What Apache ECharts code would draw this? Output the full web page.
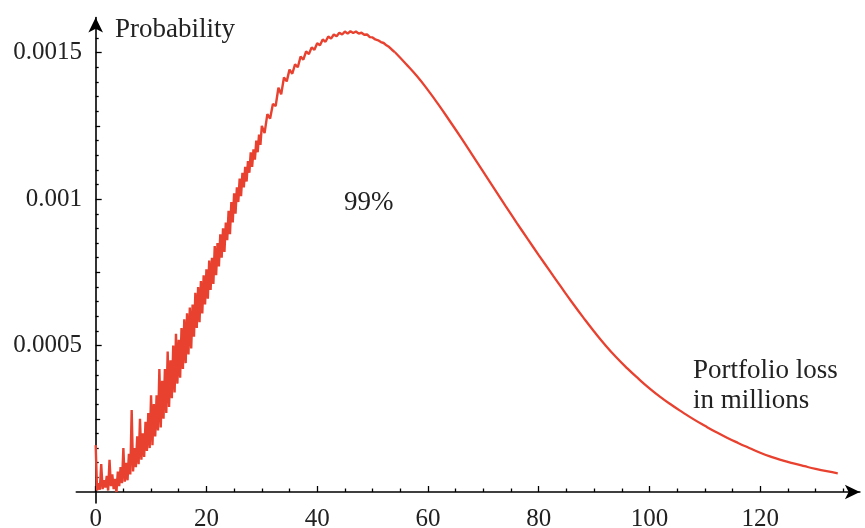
<!DOCTYPE html>
<html><head><meta charset="utf-8">
<script src="https://cdn.jsdelivr.net/npm/echarts@6/dist/echarts.min.js"></script>
<style>html,body{margin:0;padding:0;background:#fff}#c{width:865px;height:528px}</style>
</head><body><div id="c"></div>
<script>
// Noisy Monte Carlo part: loss 0 .. 30 in steps of 0.25
const fineStart = 0, fineStep = 0.25;
const probFine = [
160e-6,5e-6,30e-6,8e-6,95e-6,10e-6,40e-6,15e-6,55e-6,5e-6,110e-6,20e-6,60e-6,10e-6,45e-6,0e-6,
70e-6,20e-6,85e-6,30e-6,150e-6,35e-6,100e-6,40e-6,130e-6,60e-6,280e-6,70e-6,150e-6,85e-6,190e-6,95e-6,
250e-6,110e-6,200e-6,120e-6,240e-6,140e-6,270e-6,150e-6,330e-6,160e-6,300e-6,190e-6,330e-6,210e-6,420e-6,220e-6,
380e-6,250e-6,420e-6,270e-6,480e-6,290e-6,450e-6,320e-6,500e-6,340e-6,540e-6,370e-6,520e-6,390e-6,560e-6,420e-6,
590e-6,440e-6,610e-6,470e-6,630e-6,490e-6,640e-6,530e-6,680e-6,560e-6,700e-6,580e-6,720e-6,610e-6,740e-6,640e-6,
760e-6,660e-6,790e-6,690e-6,800e-6,710e-6,840e-6,740e-6,850e-6,770e-6,880e-6,800e-6,900e-6,820e-6,920e-6,860e-6,
960e-6,880e-6,990e-6,920e-6,1020e-6,950e-6,1040e-6,990e-6,1070e-6,1010e-6,1090e-6,1040e-6,1110e-6,1060e-6,1130e-6,1090e-6,
1160e-6,1110e-6,1170e-6,1135e-6,1200e-6,1160e-6,1220e-6,1185e-6,1250e-6
];
// Less noisy part: loss 30.5 .. 54 in steps of 0.5
const midStart = 30.5, midStep = 0.5;
const probMid = [
1225e-6,1290e-6,1275e-6,1325e-6,1318e-6,1380e-6,1358e-6,1415e-6,1402e-6,1442e-6,1428e-6,1460e-6,
1450e-6,1487e-6,1476e-6,1504e-6,1495e-6,1518e-6,1510e-6,1532e-6,1525e-6,1545e-6,1537e-6,1555e-6,
1548e-6,1562e-6,1556e-6,1568e-6,1562e-6,1572e-6,1565e-6,1573e-6,1567e-6,1572e-6,1565e-6,1568e-6,
1561e-6,1562e-6,1553e-6,1552e-6,1545e-6,1542e-6,1536e-6,1533e-6,1525e-6,1519e-6,1510e-6,1502e-6
];
// Smooth tail: loss 56 .. 134 in steps of 2
const tailStart = 56, tailStep = 2;
const probTail = [
1462e-6,1420e-6,1372e-6,1320e-6,1265e-6,1209e-6,1151e-6,1093e-6,1035e-6,977e-6,
920e-6,864e-6,809e-6,755e-6,701e-6,648e-6,597e-6,548e-6,502e-6,460e-6,
422e-6,387e-6,354e-6,324e-6,297e-6,272e-6,248e-6,226e-6,205e-6,185.5e-6,
167.5e-6,150.5e-6,134e-6,120e-6,108e-6,97.5e-6,88e-6,79e-6,71e-6,64e-6
];
const xTickLabels = [0,20,40,60,80,100,120];
const xMinorTicks = [5,10,15,25,30,35,45,50,55,65,70,75,85,90,95,105,110,115,125,130,135];
const yTickLabels = [0.0005,0.001,0.0015];
const yTickLabelText = ['0.0005','0.001','0.0015'];
const yMidTicks = [0.00025,0.00075,0.00125];
const yMinorTicks = [0.00005,0.0001,0.00015,0.0002,0.0003,0.00035,0.0004,0.00045,0.00055,0.0006,0.00065,0.0007,
  0.0008,0.00085,0.0009,0.00095,0.00105,0.0011,0.00115,0.0012,0.0013,0.00135,0.0014,0.00145,0.00155];
const annotations = ['Probability','99%','Portfolio loss','in millions'];

const noisyPts = [];
probFine.forEach((v,i)=>noisyPts.push([fineStart+i*fineStep, v]));
probMid.forEach((v,i)=>noisyPts.push([midStart+i*midStep, v]));
const tailPts = [noisyPts[noisyPts.length-1]];
probTail.forEach((v,i)=>tailPts.push([tailStart+i*tailStep, v]));

const FONT = '"Liberation Serif", "Times New Roman", serif';
const XMIN=-3.5, XMAX=138, YMIN=-0.0000375, YMAX=0.00162;
const lineStyle = {color:'#000', width:1.6};
const RED = '#e8412f';

function xAx(ticks, len, main){
  return {type:'value', min:XMIN, max:XMAX, position:'bottom', splitLine:{show:false},
    axisLine:{show:main, onZero:true, onZeroAxisIndex:0, symbol:['none','arrow'], symbolSize:[11,15], lineStyle},
    axisTick:{show:true, inside:true, length:len, customValues:ticks, lineStyle:{color:'#000',width:1.3}},
    axisLabel:main?{show:true, customValues:xTickLabels, margin:4, fontFamily:FONT, fontSize:25, color:'#222',
      formatter:v=>String(v)}:{show:false}};
}
function yAx(ticks, len, main){
  return {type:'value', min:YMIN, max:YMAX, position:'left', splitLine:{show:false},
    axisLine:{show:main, onZero:true, onZeroAxisIndex:0, symbol:['none','arrow'], symbolSize:[11,15], lineStyle},
    axisTick:{show:true, inside:true, length:len, customValues:ticks, lineStyle:{color:'#000',width:1.3}},
    axisLabel:main?{show:true, customValues:yTickLabels, margin:-5.7, fontFamily:FONT, fontSize:25, color:'#222',
      formatter:v=>{const i=yTickLabels.findIndex(t=>Math.abs(t-v)<1e-9);return i>=0?yTickLabelText[i]:'';}}:{show:false}};
}

const chart = echarts.init(document.getElementById('c'), null, {renderer:'canvas'});
chart.setOption({
  animation:false,
  backgroundColor:'#fff',
  grid:{left:76.3, right:5.1, top:17.5, bottom:25, containLabel:false, outerBoundsMode:'none'},
  xAxis:[xAx(xTickLabels,6,true), xAx(xMinorTicks,3.5,false)],
  yAxis:[yAx(yTickLabels,6,true), yAx(yMidTicks,4.5,false), yAx(yMinorTicks,3,false)],
  series:[
    {type:'line', xAxisIndex:0, yAxisIndex:0, data:noisyPts, showSymbol:false, symbol:'none',
      silent:true, lineStyle:{color:RED, width:2.4}},
    {type:'line', xAxisIndex:0, yAxisIndex:0, data:tailPts, showSymbol:false, symbol:'none', smooth:0.5,
      silent:true, lineStyle:{color:RED, width:2.3}}
  ],
  graphic:[
    {type:'text', left:115, top:16, style:{text:annotations[0], font:'27px '+FONT, fill:'#222'}},
    {type:'text', left:344, top:189, style:{text:annotations[1], font:'27px '+FONT, fill:'#222'}},
    {type:'text', left:693, top:357, style:{text:annotations[2], font:'27px '+FONT, fill:'#222'}},
    {type:'text', left:693, top:387.5, style:{text:annotations[3], font:'27px '+FONT, fill:'#222'}}
  ]
});
</script></body></html>
